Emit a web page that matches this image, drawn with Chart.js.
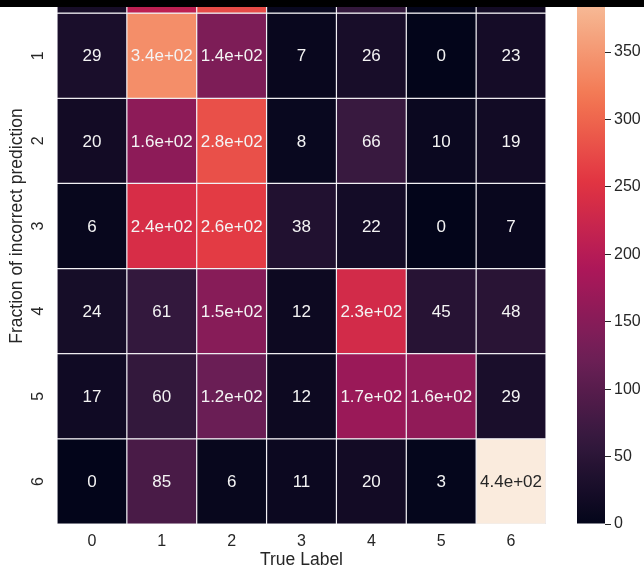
<!DOCTYPE html>
<html lang="en">
<head>
<meta charset="UTF-8">
<title>Confusion matrix heatmap</title>
<script src="https://cdn.jsdelivr.net/npm/chart.js"></script>
<style>
  body { margin: 0; background: #fff; width: 644px; height: 572px; overflow: hidden; position: relative; }
  #topbar { position: absolute; left: 0; top: 0; width: 644px; height: 7px; background: #000; z-index: 5; }
  #heat { position: absolute; left: 0; top: -100px; }
  #cbar { position: absolute; left: 570px; top: -100px; }
</style>
</head>
<body>
<div id="topbar"></div>
<canvas id="heat" width="570" height="672"></canvas>
<canvas id="cbar" width="74" height="672"></canvas>

<script>
// tick labels
var colLabels = ['0', '1', '2', '3', '4', '5', '6'];
var rowLabels = ['0', '1', '2', '3', '4', '5', '6'];
var cbarTicks = [0, 50, 100, 150, 200, 250, 300, 350];

// counts per predicted row (row 0 is mostly cut off, estimated from its colours)
var row0 = [25, 210, 275, 8, 60, 3, 20];
var row1 = [29, 340, 140, 7, 26, 0, 23];
var row2 = [20, 156, 280, 8, 66, 10, 19];
var row3 = [6, 240, 260, 38, 22, 0, 7];
var row4 = [24, 61, 150, 12, 234, 45, 48];
var row5 = [17, 60, 120, 12, 170, 160, 29];
var row6 = [0, 85, 6, 11, 20, 3, 442];

var matrix = [row0, row1, row2, row3, row4, row5, row6];
var vmax = Math.max.apply(null, matrix.map(function (r) { return Math.max.apply(null, r); }));

var FONT = '"Liberation Sans", Arial, sans-serif';
var TEXT = '#262626';

// seaborn "rocket" colormap, sampled
var rocket = [
  [0, [3, 5, 26]], [1 / 7, [53, 25, 62]], [2 / 7, [112, 31, 87]], [3 / 7, [173, 23, 89]],
  [4 / 7, [225, 51, 66]], [5 / 7, [243, 118, 81]], [6 / 7, [246, 180, 143]], [1, [250, 235, 221]]
];

function rocketRGB(t) {
  t = Math.min(1, Math.max(0, t));
  for (var i = 1; i < rocket.length; i++) {
    if (t <= rocket[i][0]) {
      var a = rocket[i - 1], b = rocket[i];
      var f = (t - a[0]) / (b[0] - a[0]);
      return a[1].map(function (c, k) { return Math.round(c + (b[1][k] - c) * f); });
    }
  }
  return rocket[rocket.length - 1][1];
}
function cellColor(v) {
  var c = rocketRGB(v / vmax);
  return 'rgb(' + c.join(',') + ')';
}
// same rule seaborn uses to pick annotation colour
function textColor(v) {
  var c = rocketRGB(v / vmax).map(function (x) {
    x = x / 255;
    return x <= 0.03928 ? x / 12.92 : Math.pow((x + 0.055) / 1.055, 2.4);
  });
  var lum = 0.2126 * c[0] + 0.7152 * c[1] + 0.0722 * c[2];
  return lum > 0.408 ? TEXT : '#f4f4f4';
}
// python '.2g'
function fmt(v) {
  if (v === 0) return '0';
  var e = Math.floor(Math.log10(Math.abs(v)));
  if (e >= 2) {
    var m = Number((v / Math.pow(10, e)).toPrecision(2));
    return m + 'e+' + String(e).padStart(2, '0');
  }
  return String(Number(v.toPrecision(2)));
}

// draws the numbers in the middle of each cell
var annotatePlugin = {
  id: 'annotate',
  afterDatasetsDraw: function (chart) {
    var ctx = chart.ctx;
    ctx.save();
    ctx.font = '17px ' + FONT;
    ctx.textAlign = 'center';
    ctx.textBaseline = 'middle';
    chart.data.datasets.forEach(function (ds, i) {
      chart.getDatasetMeta(i).data.forEach(function (bar, j) {
        var v = matrix[i][j];
        var p = bar.getCenterPoint();
        ctx.fillStyle = textColor(v);
        ctx.fillText(fmt(v), p.x, p.y + 1);
      });
    });
    ctx.restore();
  }
};

// one dataset per row, each cell a floating bar
var datasets = matrix.map(function (row, r) {
  return {
    data: row.map(function () { return [r - 0.5, r + 0.5]; }),
    backgroundColor: row.map(cellColor),
    borderColor: '#e2dfe6',
    borderWidth: 0.6,
    borderSkipped: false,
    inflateAmount: 0,
    barPercentage: 1,
    categoryPercentage: 1
  };
});

new Chart(document.getElementById('heat'), {
  type: 'bar',
  data: { labels: colLabels, datasets: datasets },
  plugins: [annotatePlugin],
  options: {
    responsive: false,
    animation: false,
    grouped: false,
    layout: { padding: { top: 28, right: 24, left: 0, bottom: 0 } },
    plugins: { legend: { display: false }, tooltip: { enabled: false } },
    scales: {
      x: {
        type: 'category',
        grid: { display: false, drawTicks: false },
        border: { display: false },
        ticks: { color: TEXT, font: { size: 16, family: FONT }, padding: 8, maxRotation: 0 },
        title: { display: true, text: 'True Label', color: TEXT, font: { size: 17.5, family: FONT }, padding: { top: 0, bottom: 1.5 } },
        afterFit: function (s) { s.height = 48; }
      },
      y: {
        type: 'linear',
        min: -0.5,
        max: 6.5,
        reverse: true,
        grid: { display: false, drawTicks: false },
        border: { display: false },
        afterBuildTicks: function (s) { s.ticks = rowLabels.map(function (l, i) { return { value: i }; }); },
        ticks: {
          color: TEXT, font: { size: 16, family: FONT }, padding: 14,
          minRotation: 90, maxRotation: 90, crossAlign: 'center',
          callback: function (v) { return rowLabels[v]; }
        },
        title: { display: true, text: 'Fraction of incorrect prediction', color: TEXT, font: { size: 17.5, family: FONT }, padding: { top: 6.5, bottom: 0 } },
        afterFit: function (s) { s.width = 57; }
      }
    }
  }
});

// colour bar
new Chart(document.getElementById('cbar'), {
  type: 'bar',
  data: {
    labels: [''],
    datasets: [{
      data: [[0, vmax]],
      borderWidth: 0,
      inflateAmount: 0,
      barPercentage: 1,
      categoryPercentage: 1,
      backgroundColor: function (c) {
        var a = c.chart.chartArea;
        if (!a) return null;
        var g = c.chart.ctx.createLinearGradient(0, a.bottom, 0, a.top);
        for (var i = 0; i <= 40; i++) {
          var rgb = rocketRGB(i / 40);
          g.addColorStop(i / 40, 'rgb(' + rgb.join(',') + ')');
        }
        return g;
      }
    }]
  },
  options: {
    responsive: false,
    animation: false,
    layout: { padding: { top: 28, left: 7, bottom: 48, right: 0 } },
    plugins: { legend: { display: false }, tooltip: { enabled: false } },
    scales: {
      x: { display: false },
      y: {
        position: 'right',
        min: 0,
        max: vmax,
        afterBuildTicks: function (s) { s.ticks = cbarTicks.map(function (v) { return { value: v }; }); },
        grid: { display: true, drawOnChartArea: false, drawTicks: true, tickLength: 6, tickColor: TEXT, tickWidth: 1 },
        border: { display: false },
        ticks: { color: TEXT, font: { size: 16, family: FONT }, padding: 3 },
        afterFit: function (s) { s.width = 39; }
      }
    }
  }
});
</script>
</body>
</html>
